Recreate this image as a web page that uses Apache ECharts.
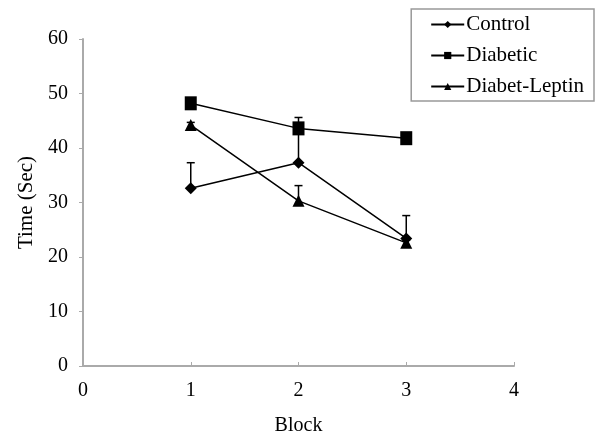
<!DOCTYPE html>
<html><head><meta charset="utf-8">
<script src="https://cdn.jsdelivr.net/npm/echarts@6/dist/echarts.min.js"></script>
<style>html,body{margin:0;padding:0;background:#fff}#c{width:595px;height:435px}</style>
</head><body><div id="c"></div>
<script>
const blocks = [1, 2, 3];
const control = [32.6, 37.3, 23.4];
const controlErr = [4.7, 5.5, 4.2];
const diabetic = [48.2, 43.6, 41.8];
const diabeticErr = [0.8, 2.0, 1.0];
const leptin = [44.2, 30.3, 22.6];
const leptinErr = [0.5, 2.8, 0.5];
const yTicks = [0, 10, 20, 30, 40, 50, 60];
const xTicks = [0, 1, 2, 3, 4];

const font = '"Liberation Serif", "Times New Roman", serif';
function pts(vals){ return blocks.map((b,i)=>[b, vals[i]]); }
function errData(vals, errs){ return blocks.map((b,i)=>[b, vals[i], vals[i]+errs[i]]); }
function errSeries(vals, errs){
  return {
    type: 'custom', silent: true, z: 1,
    data: errData(vals, errs),
    renderItem: function(params, api){
      const p0 = api.coord([api.value(0), api.value(1)]);
      const p1 = api.coord([api.value(0), api.value(2)]);
      return { type: 'group', children: [
        { type: 'line', shape: {x1:p0[0], y1:p0[1], x2:p1[0], y2:p1[1]}, style: {stroke:'#000', lineWidth:1.5} },
        { type: 'line', shape: {x1:p1[0]-4, y1:p1[1], x2:p1[0]+4, y2:p1[1]}, style: {stroke:'#000', lineWidth:1.5} }
      ]};
    }
  };
}
const chart = echarts.init(document.getElementById('c'), null, {renderer:'canvas'});
chart.setOption({
  animation: false,
  backgroundColor: '#fff',
  grid: { left: 83, right: 81, top: 39, bottom: 69, containLabel: false, outerBoundsMode: 'none' },
  legend: {
    orient: 'vertical', right: 1, top: 9,
    padding: [5, 10, 4, 19],
    itemGap: 10, itemWidth: 33, itemHeight: 9,
    borderColor: '#999', borderWidth: 1.5,
    textStyle: { fontFamily: font, fontSize: 21, lineHeight: 20, color: '#000', padding: [0,0,0,-3] },
    data: ['Control', 'Diabetic', 'Diabet-Leptin']
  },
  xAxis: {
    type: 'value', min: 0, max: 4, interval: 1,
    name: 'Block', nameLocation: 'middle', nameGap: 50,
    nameTextStyle: { fontFamily: font, fontSize: 20, color: '#000' },
    axisLine: { lineStyle: { color: '#aaa', width: 2 } },
    axisTick: { show: true, inside: true, length: 4, lineStyle: { color: '#aaa' } },
    axisLabel: { fontFamily: font, fontSize: 20, color: '#000', margin: 15, formatter: v => xTicks.includes(v) ? String(v) : '' },
    splitLine: { show: false }
  },
  yAxis: {
    type: 'value', min: 0, max: 60, interval: 10,
    name: 'Time (Sec)', nameLocation: 'middle', nameGap: 46,
    nameTextStyle: { fontFamily: font, fontSize: 21, color: '#000' },
    axisLine: { show: true, lineStyle: { color: '#aaa', width: 2 } },
    axisTick: { show: true, length: 4, lineStyle: { color: '#aaa' } },
    axisLabel: { fontFamily: font, fontSize: 20, color: '#000', margin: 15, padding: [0,0,4,0], formatter: v => yTicks.includes(v) ? String(v) : '' },
    splitLine: { show: false }
  },
  series: [
    errSeries(control, controlErr),
    errSeries(diabetic, diabeticErr),
    errSeries(leptin, leptinErr),
    { name: 'Control', type: 'line', data: pts(control), symbol: 'diamond', symbolSize: 12,
      lineStyle: { color: '#000', width: 1.5 }, itemStyle: { color: '#000' }, z: 3 },
    { name: 'Diabetic', type: 'line', data: pts(diabetic), symbol: 'rect', symbolSize: [12, 14],
      lineStyle: { color: '#000', width: 1.5 }, itemStyle: { color: '#000' }, z: 3 },
    { name: 'Diabet-Leptin', type: 'line', data: pts(leptin), symbol: 'triangle', symbolSize: 12,
      lineStyle: { color: '#000', width: 1.5 }, itemStyle: { color: '#000' }, z: 3 }
  ]
});
</script></body></html>
